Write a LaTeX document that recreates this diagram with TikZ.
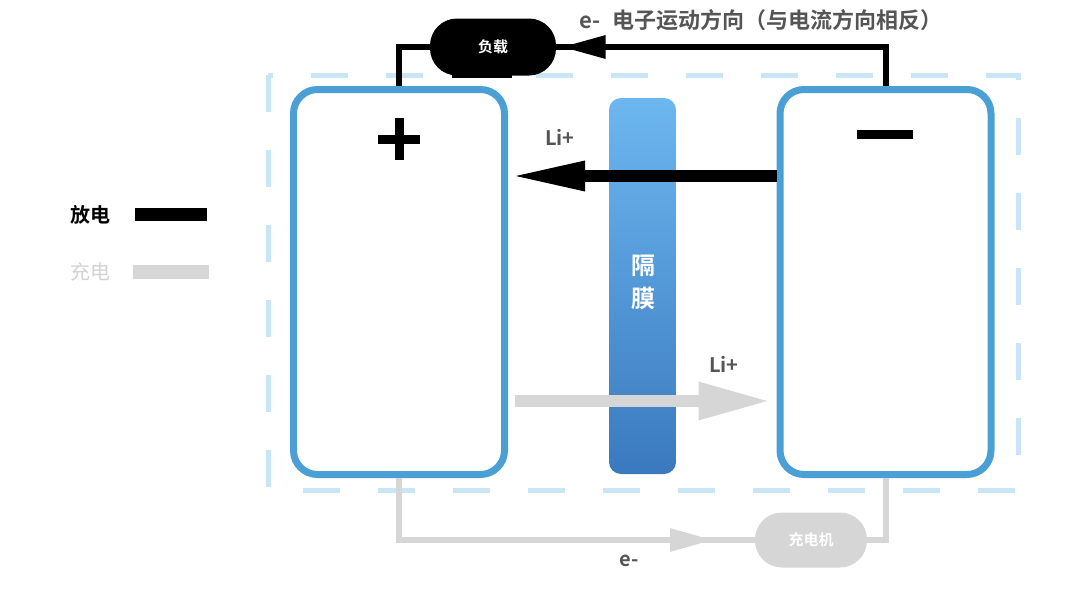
\documentclass[tikz,border=0pt]{standalone}
\usepackage{fontspec}
\setmainfont{Noto Sans CJK SC}[BoldFont={* Bold}]
\usetikzlibrary{arrows.meta,decorations.markings}
\definecolor{elblue}{HTML}{4A9FD5}
\definecolor{dashblue}{HTML}{C9E6F6}
\definecolor{septop}{HTML}{6DB7F0}
\definecolor{sepbot}{HTML}{3A79BE}
\definecolor{lgray}{HTML}{D6D6D6}
\definecolor{tgray}{HTML}{555555}
\definecolor{lgtext}{HTML}{D2D2D2}
\begin{document}
\begin{tikzpicture}[x=1pt,y=-1pt,
  elec/.style={draw=elblue,line width=7pt,rounded corners=24pt,fill=white,minimum width=211pt,minimum height=385pt,inner sep=0pt},
  sepbox/.style={rounded corners=12pt,top color=septop,bottom color=sepbot,minimum width=67pt,minimum height=376pt,inner sep=0pt},
  wire/.style={line width=6pt},
  gwire/.style={line width=6pt,draw=lgray},
  pill/.style={rounded corners=27pt,inner sep=0pt,text=white},
  lbl/.style={text=tgray,font=\fontsize{20}{22}\selectfont\bfseries,inner sep=0pt},
  dashbox/.style={draw=dashblue,line width=5pt,dash pattern=on 37pt off 38pt}
]
\useasboundingbox[fill=white] (0,0) rectangle (1080,608);

% dashed enclosure
\draw[dashbox] (268,75) rectangle (1018,490);

% electrodes and separator
\node[elec] (L) at (399,282) {};
\node[elec] (R) at (885.5,282) {};
\node[sepbox] (S) at (642.5,286) {};
\node[text=white,align=center,font=\fontsize{24}{33}\selectfont\bfseries] (Stext) at (643,282) {隔\\膜};

% plus and minus symbols
\coordinate (pc) at (399,139);
\draw[line width=9pt] ([yshift=21pt]pc) -- ([yshift=-21pt]pc);
\draw[line width=9pt] ([xshift=-21pt]pc) -- ([xshift=21pt]pc);
\coordinate (mc) at (885,134);
\draw[line width=9pt] ([xshift=-28pt]mc) -- ([xshift=28pt]mc);

% load (top circuit)
\node[pill,fill=black,minimum width=126pt,minimum height=57pt,font=\fontsize{15}{18}\selectfont\bfseries] (load) at (493,47) {负载};
\fill (452,60) rectangle (512,78);
\draw[wire] (L.north) |- (load.west);
\draw[wire,postaction={decorate},decoration={markings,mark=at position 363pt with {\arrow{Triangle[length=44pt,width=22pt]}}}]
  (R.north) |- (load.east);
\node[anchor=west,text=tgray,font=\fontsize{22}{26}\selectfont\bfseries,inner sep=0pt] (etop) at (579,20) {e-\hspace{0.55em}电子运动方向（与电流方向相反）};

% charger (bottom circuit)
\node[pill,fill=lgray,minimum width=112pt,minimum height=55pt,font=\fontsize{15}{18}\selectfont\bfseries] (chg) at (811,540) {充电机};
\draw[gwire,postaction={decorate},decoration={markings,mark=at position 376pt with {\arrow[lgray]{Triangle[length=43pt,width=22pt]}}}]
  (L.south) |- (chg.west);
\draw[gwire] (chg.east) -| (R.south);
\node[lbl] (ebot) at (629,561) {e-};

% Li+ arrows
\draw[line width=12pt,-{Triangle[length=76pt,width=27pt]}] ([yshift=106pt]R.west) -- ([xshift=1pt,yshift=106pt]L.east);
\node[lbl] (li1) at (560,137) {Li+};
\draw[line width=12pt,draw=lgray,-{Triangle[length=72pt,width=35pt]}] ([xshift=7pt,yshift=-119pt]L.east) -- ([xshift=-6pt,yshift=-119pt]R.west);
\node[lbl] (li2) at (724,364) {Li+};

% legend
\node[font=\fontsize{20}{24}\selectfont\bfseries,inner sep=0pt] (lg1) at (90,215) {放电};
\node[fill=black,minimum width=72pt,minimum height=13pt,inner sep=0pt] (bar1) at (171,214.5) {};
\node[font=\fontsize{20}{24}\selectfont,text=lgtext,inner sep=0pt] (lg2) at (90,272) {充电};
\node[fill=lgray,minimum width=76pt,minimum height=14pt,inner sep=0pt] (bar2) at (171,272) {};
\end{tikzpicture}
\end{document}
